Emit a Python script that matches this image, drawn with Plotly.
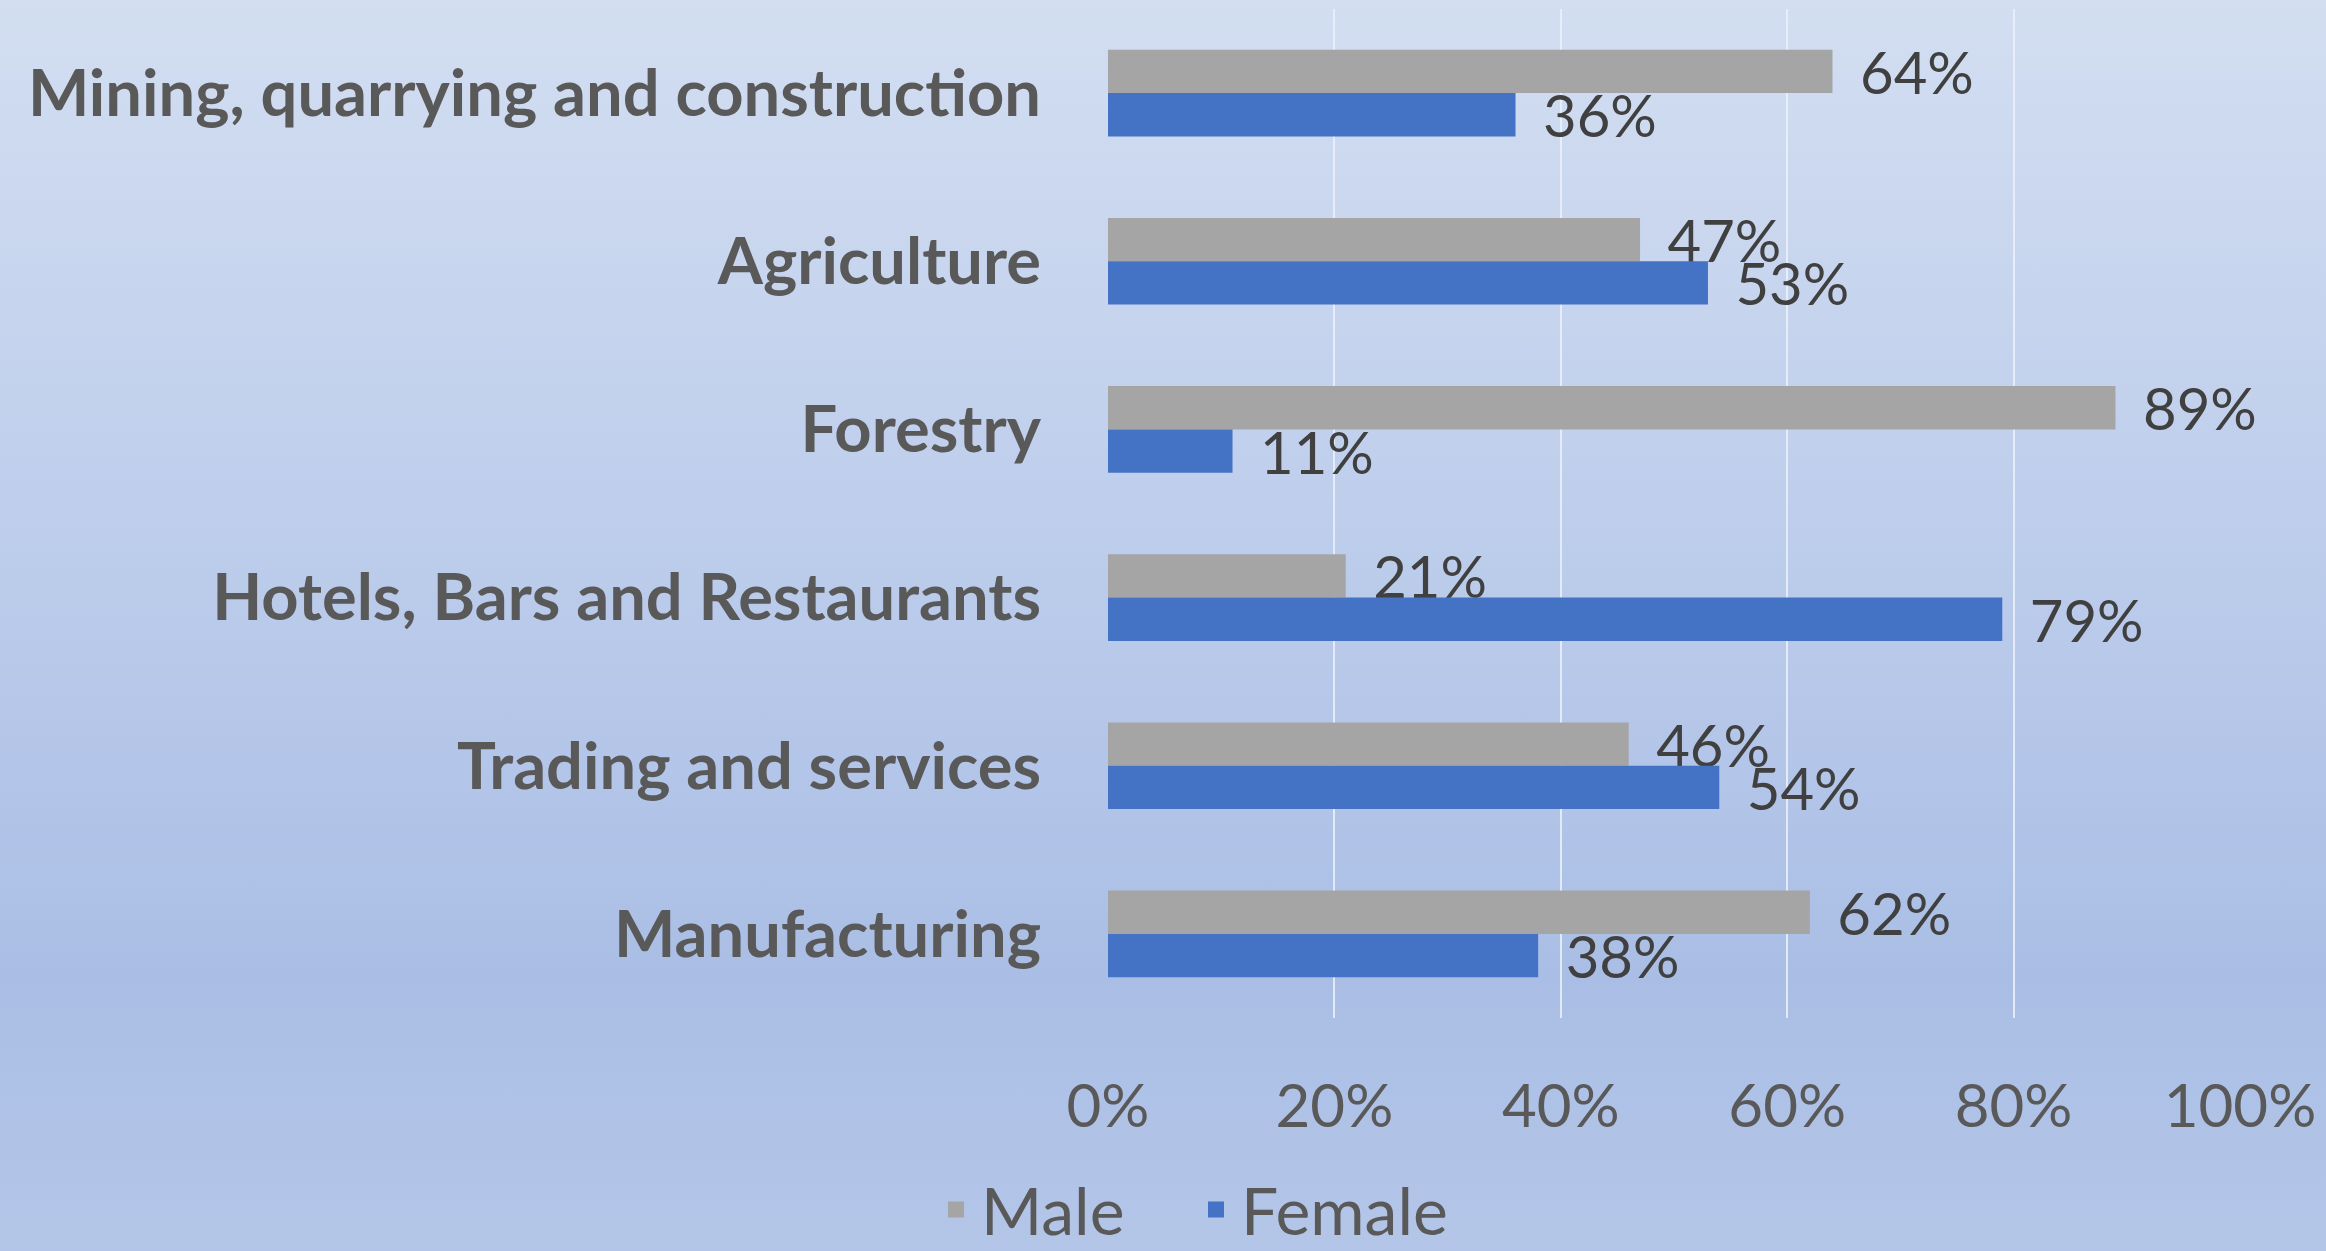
import base64
import plotly.graph_objects as go

# ---- data ----
categories = ["Mining, quarrying and construction", "Agriculture", "Forestry",
              "Hotels, Bars and Restaurants", "Trading and services", "Manufacturing"]
male = [0.64, 0.47, 0.89, 0.21, 0.46, 0.62]
female = [0.36, 0.53, 0.11, 0.79, 0.54, 0.38]
series_names = ["Male", "Female"]
tick_vals = [0, 0.2, 0.4, 0.6, 0.8, 1.0]
tick_text = ["0%", "20%", "40%", "60%", "80%", "100%"]

# ---- style ----
W, H = 2326, 1251
ML, MR, MT, MB = 1108, 86, 9, 233
PW, PH = W - ML - MR, H - MT - MB
GRAY = "#A5A5A5"
BLUE = "#4472C4"
FONT = "Lato"
LABEL_COLOR = "#404040"
AXIS_COLOR = "#595959"

svg = ('<svg xmlns="http://www.w3.org/2000/svg" width="100" height="100" preserveAspectRatio="none">'
       '<defs><linearGradient id="g" x1="0" y1="0" x2="0" y2="1">'
       '<stop offset="0" stop-color="#D3DEF1"/>'
       '<stop offset="0.45" stop-color="#BCCCEB"/>'
       '<stop offset="0.78" stop-color="#AABEE5"/>'
       '<stop offset="1" stop-color="#B4C6E8"/>'
       '</linearGradient></defs><rect width="100" height="100" fill="url(#g)"/></svg>')
bg_uri = "data:image/svg+xml;base64," + base64.b64encode(svg.encode()).decode()

fig = go.Figure()
for name, vals, col in [(series_names[0], male, GRAY), (series_names[1], female, BLUE)]:
    fig.add_trace(go.Bar(
        y=categories, x=vals, name=name, orientation="h",
        marker=dict(color=col, line=dict(width=0)),
        texttemplate="\u00a0\u2006%{x:.0%}", textposition="outside",
        textfont=dict(family=FONT, size=58, color=LABEL_COLOR),
        constraintext="none", cliponaxis=False, showlegend=False,
        hoverinfo="skip",
    ))
    # legend proxy with a square marker
    fig.add_trace(go.Scatter(
        x=[None], y=[None], mode="markers", name=name,
        marker=dict(symbol="square", size=36, color=col),
        showlegend=True,
    ))

fig.update_layout(
    width=W, height=H,
    margin=dict(l=ML, r=MR, t=MT, b=MB, pad=0, autoexpand=False),
    paper_bgcolor="#BCCCEB",
    plot_bgcolor="rgba(0,0,0,0)",
    barmode="group", bargap=0.485, bargroupgap=0,
    font=dict(family=FONT, color=AXIS_COLOR),
    xaxis=dict(
        range=[0, 1.0], tickvals=tick_vals, ticktext=tick_text,
        showgrid=True, gridcolor="rgba(235,240,250,0.85)", gridwidth=2,
        zeroline=False, showline=False, ticks="",
        ticklabelstandoff=48, automargin=False,
        tickfont=dict(family=FONT, size=60, color=AXIS_COLOR),
        fixedrange=True,
    ),
    yaxis=dict(
        autorange="reversed", showgrid=False, zeroline=False, showline=False, ticks="",
        ticklabelstandoff=66, automargin=False,
        tickfont=dict(family=FONT, size=65, color=AXIS_COLOR, weight="bold"),
        fixedrange=True,
    ),
    legend=dict(
        orientation="h", xref="paper", yref="paper",
        x=(1191 - ML) / PW, xanchor="center", y=-0.19, yanchor="middle",
        font=dict(family=FONT, size=66, color=AXIS_COLOR),
        bgcolor="rgba(0,0,0,0)", itemwidth=40, tracegroupgap=0,
        entrywidth=205, entrywidthmode="pixels",
    ),
    images=[dict(
        source=bg_uri, xref="paper", yref="paper",
        x=-(ML + 5) / PW, y=1 + (MT + 5) / PH, sizex=(W + 10) / PW, sizey=(H + 10) / PH,
        xanchor="left", yanchor="top", sizing="stretch", layer="below",
    )],
    showlegend=True,
)

fig.write_html("out.html", config={"displayModeBar": False},
               post_script="document.body.style.margin='0';document.body.style.overflow='hidden';")
